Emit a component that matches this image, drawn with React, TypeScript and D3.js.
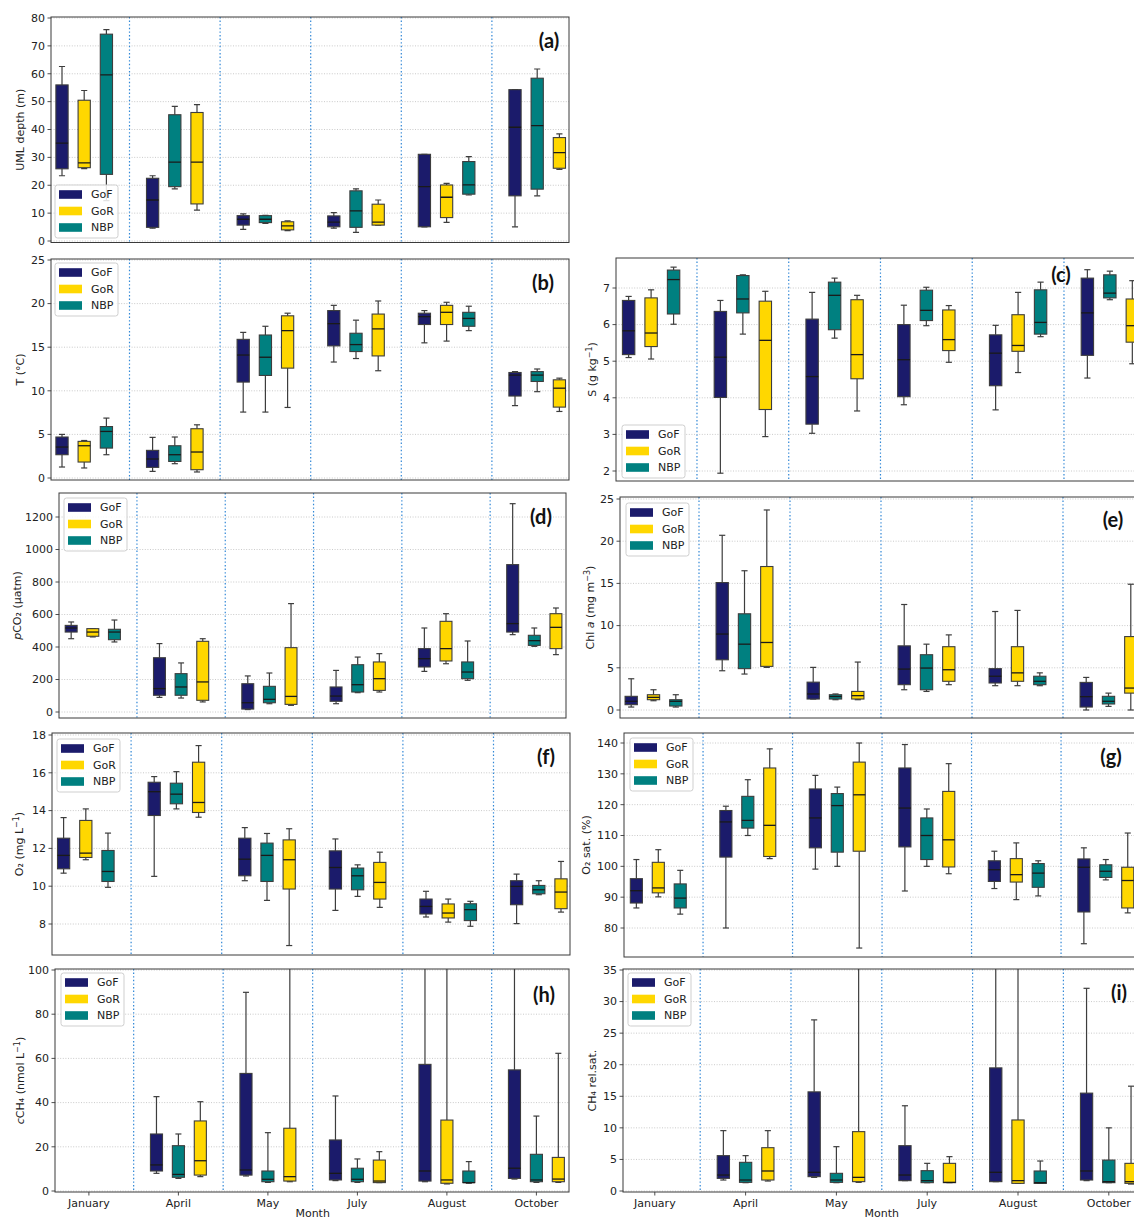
import React from "react";
import * as d3 from "d3";

// ---- categories ----
const months = ["January", "April", "May", "July", "August", "October"];
const regions = ["GoF", "GoR", "NBP"];
const regionColors = ["#1b1b6b", "#ffd700", "#008080"];
// position (0,1,2) of each region inside a month group
const slotGoF = [0, 0, 0, 0, 0, 0];
const slotGoR = [1, 2, 2, 2, 1, 2];
const slotNBP = [2, 1, 1, 1, 2, 1];

// ---- box statistics: [whisker low, Q1, median, Q3, whisker high] per month ----
// (a) upper mixed layer depth (m)
const umlGoF = [[23.4, 25.9, 35.1, 56.0, 62.6], [4.6, 4.9, 14.7, 22.5, 23.4], [4.2, 5.7, 7.8, 9.1, 9.7], [4.6, 5.1, 6.8, 9.0, 10.2], [5.1, 5.1, 19.5, 31.1, 31.1], [5.1, 16.2, 40.8, 54.3, 54.3]];
const umlGoR = [[26.0, 26.3, 28.0, 50.5, 54.0], [11.1, 13.3, 28.3, 46.1, 48.9], [3.7, 4.0, 5.4, 6.9, 7.2], [5.7, 5.7, 6.8, 13.2, 14.7], [6.7, 8.4, 15.7, 20.1, 20.7], [25.7, 26.1, 31.7, 37.1, 38.4]];
const umlNBP = [[14.5, 23.9, 59.6, 74.2, 75.8], [18.7, 19.5, 28.3, 45.3, 48.3], [6.3, 6.6, 7.8, 9.1, 9.2], [3.1, 4.9, 10.8, 18.0, 18.7], [16.5, 16.8, 20.1, 28.5, 30.3], [16.2, 18.6, 41.4, 58.4, 61.7]];

// (b) temperature (°C)
const tGoF = [[1.26, 2.67, 3.55, 4.7, 5.0], [0.76, 1.22, 2.18, 3.17, 4.66], [7.56, 11.0, 14.1, 15.9, 16.7], [13.3, 15.15, 17.7, 19.2, 19.8], [15.5, 17.6, 18.5, 18.9, 19.2], [8.3, 9.4, 11.8, 12.1, 12.2]];
const tGoR = [[1.15, 1.83, 3.7, 4.2, 4.3], [0.69, 0.95, 2.98, 5.65, 6.1], [8.09, 12.6, 16.9, 18.6, 18.9], [12.3, 14.0, 17.1, 18.8, 20.3], [15.7, 17.6, 19.0, 19.8, 20.15], [7.63, 8.13, 10.3, 11.26, 11.45]];
const tNBP = [[2.67, 3.43, 5.34, 5.9, 6.87], [1.64, 1.9, 2.67, 3.7, 4.7], [7.56, 11.76, 13.85, 16.4, 17.4], [13.7, 14.5, 15.3, 16.6, 18.1], [16.9, 17.4, 18.3, 19.0, 19.7], [9.9, 11.07, 11.8, 12.2, 12.5]];

// (c) salinity (g/kg)
const sGoF = [[5.10, 5.18, 5.83, 6.66, 6.77], [1.94, 4.01, 5.11, 6.36, 6.66], [3.03, 3.28, 4.58, 6.15, 6.88], [3.81, 4.03, 5.04, 6.0, 6.53], [3.67, 4.33, 5.22, 5.72, 5.98], [4.54, 5.16, 6.32, 7.27, 7.50]];
const sGoR = [[5.06, 5.40, 5.77, 6.73, 6.95], [2.94, 3.68, 5.57, 6.64, 6.91], [3.64, 4.52, 5.18, 6.68, 6.80], [4.97, 5.29, 5.59, 6.40, 6.52], [4.69, 5.27, 5.43, 6.27, 6.88], [4.93, 5.52, 5.97, 6.70, 7.2]];
const sNBP = [[6.01, 6.29, 7.23, 7.49, 7.57], [5.74, 6.32, 6.70, 7.34, 7.36], [5.63, 5.86, 6.80, 7.16, 7.27], [5.97, 6.11, 6.39, 6.94, 7.02], [5.67, 5.74, 6.06, 6.95, 7.16], [6.68, 6.73, 6.86, 7.36, 7.46]];

// (d) pCO2 (µatm)
const pGoF = [[451, 492, 517, 533, 554], [90, 103, 144, 334, 421], [15, 18, 57, 174, 222], [51, 66, 98, 154, 256], [250, 277, 328, 390, 517], [476, 492, 544, 907, 1282]];
const pGoR = [[462, 466, 492, 513, 513], [62, 72, 185, 435, 451], [41, 47, 96, 396, 667], [123, 133, 205, 308, 359], [297, 314, 390, 558, 605], [353, 390, 521, 605, 640]];
const pNBP = [[431, 445, 492, 509, 566], [86, 103, 154, 236, 302], [51, 57, 78, 158, 240], [119, 123, 168, 291, 338], [195, 205, 246, 308, 437], [404, 410, 439, 472, 517]];

// (e) chlorophyll a (mg/m3)
const chlGoF = [[0.35, 0.63, 1.03, 1.62, 3.7], [4.65, 5.95, 9.0, 15.1, 20.7], [1.3, 1.3, 1.9, 3.3, 5.05], [2.4, 3.0, 4.85, 7.6, 12.5], [2.88, 3.2, 4.0, 4.9, 11.67], [0, 0.35, 1.58, 3.27, 3.86]];
const chlGoR = [[1.1, 1.22, 1.5, 1.81, 2.4], [5.05, 5.17, 8.0, 17.0, 23.7], [1.22, 1.3, 1.7, 2.2, 5.68], [3.0, 3.4, 4.77, 7.5, 8.9], [2.88, 3.4, 4.4, 7.5, 11.8], [0, 2.0, 2.6, 8.7, 14.9]];
const chlNBP = [[0.35, 0.47, 1.03, 1.22, 1.81], [4.26, 4.9, 7.8, 11.4, 16.5], [1.22, 1.3, 1.6, 1.81, 1.9], [2.2, 2.4, 4.97, 6.55, 7.8], [2.88, 3.0, 3.4, 4.0, 4.4], [0.43, 0.71, 1.03, 1.62, 2.0]];

// (f) dissolved oxygen (mg/L)
const oGoF = [[10.69, 10.92, 11.63, 12.54, 13.63], [10.52, 13.74, 15.0, 15.5, 15.8], [10.29, 10.55, 11.43, 12.54, 13.1], [8.72, 9.85, 10.99, 11.87, 12.5], [8.37, 8.53, 8.93, 9.32, 9.73], [8.02, 9.02, 9.99, 10.29, 10.64]];
const oGoR = [[11.4, 11.52, 11.75, 13.48, 14.09], [13.65, 13.9, 14.43, 16.56, 17.44], [6.86, 9.85, 11.4, 12.45, 13.04], [8.88, 9.32, 10.2, 11.26, 11.8], [8.1, 8.32, 8.58, 9.06, 9.32], [8.63, 8.81, 9.69, 10.39, 11.31]];
const oNBP = [[9.94, 10.25, 10.78, 11.89, 12.81], [14.09, 14.36, 14.87, 15.45, 16.06], [9.25, 10.25, 11.63, 12.28, 12.79], [9.46, 9.81, 10.55, 10.96, 11.13], [7.88, 8.18, 8.76, 9.07, 9.2], [9.55, 9.6, 9.81, 10.04, 10.29]];

// (g) oxygen saturation (%)
const osGoF = [[86.5, 88.1, 92.1, 96.0, 102.2], [80, 103.0, 114.4, 118.1, 119.5], [99.1, 106, 115.7, 125.1, 129.5], [92, 106.3, 118.9, 131.9, 139.5], [92.8, 95.1, 98.9, 101.8, 104.9], [74.9, 85.2, 99.7, 102.4, 106]];
const osGoR = [[90.1, 91.4, 93.0, 101.3, 105.4], [102.5, 103.2, 113.3, 131.9, 138.1], [73.5, 104.9, 123.2, 133.8, 140], [97.6, 99.8, 108.6, 124.3, 133.3], [89.2, 94.9, 97.3, 102.5, 107.6], [84.9, 86.5, 95.4, 99.7, 110.8]];
const osNBP = [[84.5, 86.5, 89.7, 94.3, 98.7], [110, 112.4, 114.9, 122.7, 128.1], [100, 104.6, 119.7, 123.6, 125.7], [100, 102.2, 110, 115.7, 118.6], [90.4, 93.2, 97.8, 100.9, 101.8], [95.6, 96.4, 98.4, 100.5, 102.2]];

// (h) methane concentration (nmol/L); no January samples
const chGoF = [null, [8.0, 9.05, 11.8, 25.8, 42.7], [6.8, 7.2, 9.5, 53.2, 89.9], [4.7, 5.0, 8.0, 23.1, 43.0], [4.2, 4.5, 9.05, 57.3, 160], [5.4, 5.7, 10.3, 54.8, 140]];
const chGoR = [null, [6.5, 7.2, 13.7, 31.7, 40.4], [4.2, 4.5, 6.5, 28.4, 150], [3.8, 3.8, 4.5, 14.0, 17.8], [3.2, 3.5, 5.0, 32.1, 130], [3.9, 4.2, 5.4, 15.2, 62.3]];
const chNBP = [null, [5.7, 6.2, 7.5, 20.5, 25.8], [3.9, 4.2, 5.3, 9.05, 26.4], [3.9, 4.2, 5.3, 10.3, 14.5], [3.5, 3.8, 3.8, 9.05, 13.3], [3.9, 4.2, 5.0, 16.6, 33.9]];

// (i) methane relative saturation
const rsGoF = [null, [1.74, 2.0, 2.53, 5.6, 9.56], [2.16, 2.27, 2.96, 15.7, 27.1], [1.64, 1.64, 2.53, 7.18, 13.5], [1.48, 1.48, 2.96, 19.5, 45], [1.64, 1.74, 3.17, 15.5, 32.1]];
const rsGoR = [null, [1.58, 1.74, 3.17, 6.86, 9.56], [1.37, 1.48, 2.16, 9.4, 42], [1.32, 1.32, 1.37, 4.38, 5.44], [1.21, 1.21, 1.64, 11.25, 40], [1.1, 1.21, 1.48, 4.38, 16.6]];
const rsNBP = [null, [1.32, 1.37, 1.74, 4.54, 5.6], [1.32, 1.37, 1.74, 2.8, 7.02], [1.32, 1.32, 1.64, 3.22, 4.38], [1.21, 1.21, 1.32, 3.17, 4.75], [1.32, 1.32, 1.48, 4.9, 10.0]];

// ---- y ticks ----
const ticksA = d3.range(0, 81, 10);
const ticksB = d3.range(0, 26, 5);
const ticksC = [2, 3, 4, 5, 6, 7];
const ticksD = d3.range(0, 1201, 200);
const ticksE = d3.range(0, 26, 5);
const ticksF = d3.range(8, 19, 2);
const ticksG = d3.range(80, 141, 10);
const ticksH = d3.range(0, 101, 20);
const ticksI = d3.range(0, 36, 5);

type Stat = number[] | null;

const FONT = "DejaVu Sans, sans-serif";

const sup = (t: string) => (
  <>
    <tspan dy={-4} fontSize={8}>{t}</tspan>
    <tspan dy={4}>)</tspan>
  </>
);

interface PanelProps {
  id: string;
  col: { c0: number; sp: number };
  left: number;
  right: number;
  top: number;
  bottom: number;
  anchors: [[number, number], [number, number]];
  ticks: number[];
  series: Stat[][];
  ylabel: React.ReactNode;
  ylabelX: number;
  tag: string;
  tagPos: [number, number];
  legend: [number, number];
  showMonths?: boolean;
}

function Panel(p: PanelProps) {
  const x = d3.scaleLinear().domain([0, 5]).range([p.col.c0, p.col.c0 + 5 * p.col.sp]);
  const y = d3
    .scaleLinear()
    .domain([p.anchors[0][0], p.anchors[1][0]])
    .range([p.anchors[0][1], p.anchors[1][1]]);
  const off = 0.245 * p.col.sp;
  const bw = 0.135 * p.col.sp;
  const slots = [slotGoF, slotGoR, slotNBP];
  const clip = `clip-${p.id}`;
  const edge = "#3d3d3d";
  const midY = (p.top + p.bottom) / 2;

  return (
    <g>
      <defs>
        <clipPath id={clip}>
          <rect x={p.left} y={p.top} width={p.right - p.left} height={p.bottom - p.top} />
        </clipPath>
      </defs>
      {/* horizontal grid */}
      {p.ticks.map((t) => (
        <line key={`g${t}`} x1={p.left} x2={p.right} y1={y(t)} y2={y(t)} stroke="#c4c4c4" strokeWidth={0.9} strokeDasharray="1,1.6" />
      ))}
      {/* month separators */}
      {[0.5, 1.5, 2.5, 3.5, 4.5].map((v) => (
        <line key={`s${v}`} x1={x(v)} x2={x(v)} y1={p.top} y2={p.bottom} stroke="#2f86d6" strokeWidth={1.2} strokeDasharray="1.4,2.2" />
      ))}
      {/* boxes */}
      <g clipPath={`url(#${clip})`}>
        {p.series.map((ser, r) =>
          ser.map((st, m) => {
            if (!st) return null;
            const [lo, q1, med, q3, hi] = st;
            const cx = x(m) + (slots[r][m] - 1) * off;
            return (
              <g key={`${r}-${m}`}>
                <line x1={cx} x2={cx} y1={y(q3)} y2={y(hi)} stroke={edge} strokeWidth={1.2} />
                <line x1={cx} x2={cx} y1={y(q1)} y2={y(lo)} stroke={edge} strokeWidth={1.2} />
                <line x1={cx - bw / 4} x2={cx + bw / 4} y1={y(hi)} y2={y(hi)} stroke={edge} strokeWidth={1.2} />
                <line x1={cx - bw / 4} x2={cx + bw / 4} y1={y(lo)} y2={y(lo)} stroke={edge} strokeWidth={1.2} />
                <rect x={cx - bw / 2} y={y(q3)} width={bw} height={Math.max(0.5, y(q1) - y(q3))} fill={regionColors[r]} stroke={edge} strokeWidth={1.1} />
                <line x1={cx - bw / 2} x2={cx + bw / 2} y1={y(med)} y2={y(med)} stroke="#1a1a1a" strokeWidth={1.3} />
              </g>
            );
          })
        )}
      </g>
      {/* frame */}
      <rect x={p.left} y={p.top} width={p.right - p.left} height={p.bottom - p.top} fill="none" stroke="#3a3a3a" strokeWidth={1} />
      {/* y axis */}
      {p.ticks.map((t) => (
        <g key={`t${t}`}>
          <line x1={p.left - 3.5} x2={p.left} y1={y(t)} y2={y(t)} stroke="#3a3a3a" strokeWidth={0.9} />
          <text x={p.left - 6} y={y(t)} dy="0.35em" textAnchor="end" fontSize={11} fontFamily={FONT} fill="#222">
            {t}
          </text>
        </g>
      ))}
      <text transform={`translate(${p.ylabelX},${midY}) rotate(-90)`} textAnchor="middle" dy="0.35em" fontSize={11} fontFamily={FONT} fill="#222">
        {p.ylabel}
      </text>
      {/* x axis */}
      {p.showMonths && (
        <g>
          {months.map((mo, i) => (
            <g key={mo}>
              <line x1={x(i)} x2={x(i)} y1={p.bottom} y2={p.bottom + 3.5} stroke="#3a3a3a" strokeWidth={0.9} />
              <text x={x(i)} y={p.bottom + 11} dy="0.35em" textAnchor="middle" fontSize={11} fontFamily={FONT} fill="#222">
                {mo}
              </text>
            </g>
          ))}
          <text x={x(2.5)} y={p.bottom + 21.5} dy="0.35em" textAnchor="middle" fontSize={11} fontFamily={FONT} fill="#222">
            Month
          </text>
        </g>
      )}
      {/* legend */}
      <g transform={`translate(${p.legend[0]},${p.legend[1]})`}>
        <rect x={0} y={0} width={63} height={53} rx={2.5} fill="#fff" fillOpacity={0.85} stroke="#cfcfcf" strokeWidth={1} />
        {regions.map((rg, i) => (
          <g key={rg} transform={`translate(0,${9.5 + i * 16.5})`}>
            <rect x={4} y={-4.3} width={23} height={8.6} fill={regionColors[i]} />
            <text x={36} y={0} dy="0.35em" fontSize={11} fontFamily={FONT} fill="#222">
              {rg}
            </text>
          </g>
        ))}
      </g>
      {/* panel tag */}
      <text x={p.tagPos[0]} y={p.tagPos[1]} dy="0.35em" textAnchor="middle" fontSize={20} fontWeight={700} fontFamily="Lato, 'Open Sans', sans-serif" fill="#111">
        {p.tag}
      </text>
    </g>
  );
}

export default function App() {
  const panels: PanelProps[] = [
    { id: "a", col: { c0: 84.2, sp: 90.6 }, left: 51, right: 569, top: 17, bottom: 242.5, anchors: [[80, 18], [0, 241]], ticks: ticksA, series: [umlGoF, umlGoR, umlNBP], ylabel: "UML depth (m)", ylabelX: 20, tag: "(a)", tagPos: [549, 41], legend: [55, 185] },
    { id: "b", col: { c0: 84.2, sp: 90.6 }, left: 51, right: 569, top: 259, bottom: 480, anchors: [[25, 260], [0, 478]], ticks: ticksB, series: [tGoF, tGoR, tNBP], ylabel: "T (°C)", ylabelX: 20, tag: "(b)", tagPos: [543, 283], legend: [55, 263] },
    { id: "c", col: { c0: 651.1, sp: 91.75 }, left: 616, right: 1145, top: 258, bottom: 481, anchors: [[7, 288], [2, 471]], ticks: ticksC, series: [sGoF, sGoR, sNBP], ylabel: <>S (g kg{sup("−1")}</>, ylabelX: 592, tag: "(c)", tagPos: [1061, 275], legend: [622, 425] },
    { id: "d", col: { c0: 92.8, sp: 88.3 }, left: 59, right: 566, top: 493, bottom: 718, anchors: [[1200, 517], [0, 712]], ticks: ticksD, series: [pGoF, pGoR, pNBP], ylabel: <><tspan fontStyle="italic">p</tspan>CO₂ (µatm)</>, ylabelX: 17, tag: "(d)", tagPos: [541, 517], legend: [64, 498] },
    { id: "e", col: { c0: 653.5, sp: 91 }, left: 620, right: 1145, top: 497, bottom: 718, anchors: [[25, 499], [0, 710]], ticks: ticksE, series: [chlGoF, chlGoR, chlNBP], ylabel: <>Chl <tspan fontStyle="italic">a</tspan> (mg m{sup("−3")}</>, ylabelX: 590, tag: "(e)", tagPos: [1113, 520], legend: [626, 503] },
    { id: "f", col: { c0: 85.8, sp: 90.6 }, left: 52, right: 570, top: 733, bottom: 955, anchors: [[18, 735], [8, 924]], ticks: ticksF, series: [oGoF, oGoR, oNBP], ylabel: <>O₂ (mg L{sup("−1")}</>, ylabelX: 19, tag: "(f)", tagPos: [546, 757], legend: [57, 739] },
    { id: "g", col: { c0: 658.3, sp: 89.5 }, left: 624, right: 1145, top: 733, bottom: 957, anchors: [[140, 743], [80, 928]], ticks: ticksG, series: [osGoF, osGoR, osNBP], ylabel: "O₂ sat. (%)", ylabelX: 586, tag: "(g)", tagPos: [1111, 757], legend: [630, 738] },
    { id: "h", col: { c0: 88.9, sp: 89.5 }, left: 55, right: 569, top: 969, bottom: 1192, anchors: [[100, 970], [0, 1191]], ticks: ticksH, series: [chGoF, chGoR, chNBP], ylabel: <><tspan fontStyle="italic">c</tspan>CH₄ (nmol L{sup("−1")}</>, ylabelX: 20, tag: "(h)", tagPos: [544, 995], legend: [61, 973], showMonths: true },
    { id: "i", col: { c0: 654.8, sp: 90.8 }, left: 623, right: 1145, top: 969, bottom: 1192, anchors: [[35, 970], [0, 1191]], ticks: ticksI, series: [rsGoF, rsGoR, rsNBP], ylabel: "CH₄ rel.sat.", ylabelX: 592, tag: "(i)", tagPos: [1119, 993], legend: [628, 973], showMonths: true },
  ];

  return (
    <div style={{ position: "absolute", left: 0, top: 0, width: 1134, height: 1221, overflow: "hidden", background: "#fff" }}>
      <svg width={1134} height={1221} viewBox="0 0 1134 1221" style={{ display: "block" }}>
        <rect width={1134} height={1221} fill="#fff" />
        {panels.map((p) => (
          <Panel key={p.id} {...p} />
        ))}
      </svg>
    </div>
  );
}
